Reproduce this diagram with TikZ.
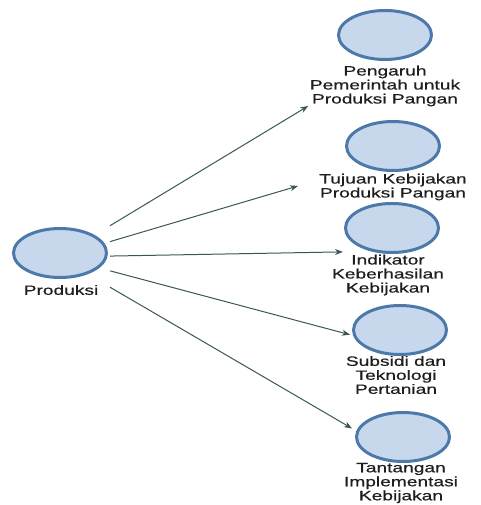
\documentclass[tikz,border=0pt]{standalone}
\usepackage{fontspec}
\newfontfamily\etiq{Liberation Sans}[FakeStretch=1.42,FakeBold=0.6]
\usetikzlibrary{arrows.meta}
\usetikzlibrary{shapes.geometric}
\definecolor{relleno}{HTML}{C7D8ED}
\definecolor{borde}{HTML}{4C79A9}
\definecolor{flechagris}{HTML}{3A5656}
\definecolor{textogris}{HTML}{1E1E1E}

\begin{document}
\begin{tikzpicture}[x=1pt,y=-1pt,
	burbuja/.style={ellipse,draw=borde,fill=relleno,line width=3pt,minimum width=93pt,minimum height=49pt,inner sep=0pt},
	texto/.style={font=\etiq\fontsize{13.5pt}{14pt}\selectfont,text=textogris,align=center,inner sep=0pt},
	caja/.style={rectangle,inner sep=0pt,outer sep=0pt},
	flecha/.style={color=flechagris,line width=1pt,-{Stealth[length=8pt,width=6pt]}}]
			\useasboundingbox (0,0) rectangle (480,505);
			%nodo origen
			\node[burbuja] (prod) at (60,253) {};
			\node[texto] (prodtxt) at (61,290) {Produksi};
			\node[caja,minimum width=104pt,minimum height=84pt] (cprod) at (58,257) {};
			%nodos destino
			\node[burbuja] (pengaruh) at (385,35) {};
			\node[texto] (pengaruhtxt) at (385,86) {Pengaruh\\Pemerintah untuk\\Produksi Pangan};
			\node[caja,minimum width=170pt,minimum height=93pt] (cpengaruh) at (385,59.5) {};
			\node[burbuja] (tujuan) at (393,146) {};
			\node[texto] (tujuantxt) at (393,187) {Tujuan Kebijakan\\Produksi Pangan};
			\node[caja,minimum width=190pt,minimum height=78pt] (ctujuan) at (393,158) {};
			\node[burbuja] (indikator) at (392,228) {};
			\node[texto] (indikatortxt) at (388,275) {Indikator\\Keberhasilan\\Kebijakan};
			\node[caja,minimum width=98pt,minimum height=90pt] (cindikator) at (392,251) {};
			\node[burbuja] (subsidi) at (400,330) {};
			\node[texto] (subsiditxt) at (396,375) {Subsidi dan\\Teknologi\\Pertanian};
			\node[caja,minimum width=100pt,minimum height=84pt] (csubsidi) at (400,348) {};
			\node[burbuja] (tantangan) at (403,437) {};
			\node[texto] (tantangantxt) at (401,483) {Tantangan\\Implementasi\\Kebijakan};
			\node[caja,minimum width=102pt,minimum height=90pt] (ctantangan) at (403,458) {};
			%flechas
			\draw[flecha] (cprod) -- (cpengaruh);
			\draw[flecha] (cprod) -- (ctujuan);
			\draw[flecha] (cprod) -- (cindikator);
			\draw[flecha] (cprod) -- (csubsidi);
			\draw[flecha] (cprod) -- (ctantangan);
		\end{tikzpicture}
\end{document}
